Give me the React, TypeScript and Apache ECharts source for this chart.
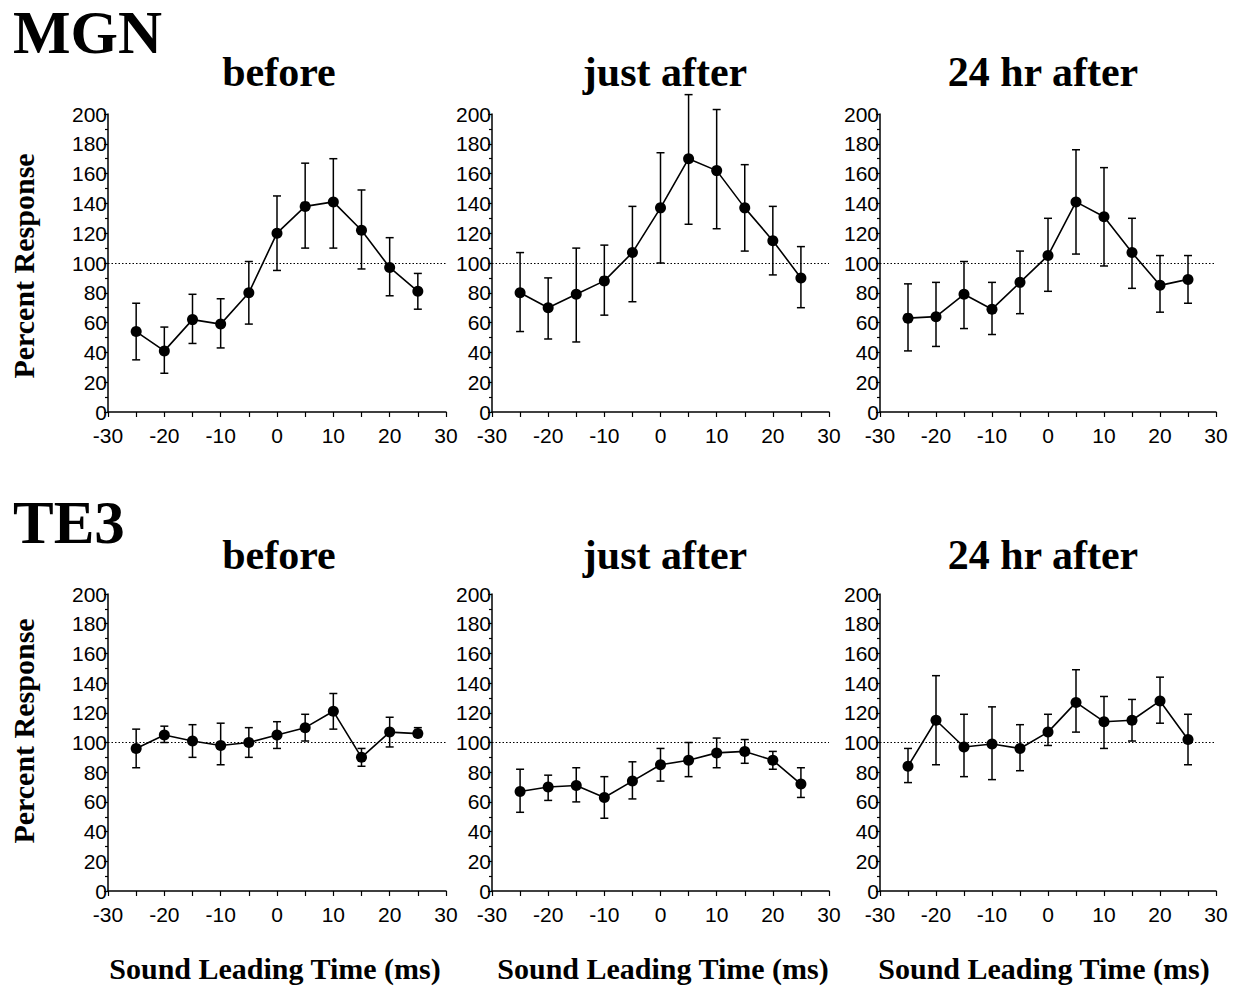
import React, { useEffect, useRef } from "react";
import * as echarts from "echarts";

// Sound leading time (ms) for every measured point
const times = [-25, -20, -15, -10, -5, 0, 5, 10, 15, 20, 25];

// MGN – before
const mgnBeforeMean = [54, 41, 62, 59, 80, 120, 138, 141, 122, 97, 81];
const mgnBeforeLow = [35, 26, 46, 43, 59, 95, 110, 110, 96, 78, 69];
const mgnBeforeHigh = [73, 57, 79, 76, 101, 145, 167, 170, 149, 117, 93];

// MGN – just after
const mgnJustMean = [80, 70, 79, 88, 107, 137, 170, 162, 137, 115, 90];
const mgnJustLow = [54, 49, 47, 65, 74, 100, 126, 123, 108, 92, 70];
const mgnJustHigh = [107, 90, 110, 112, 138, 174, 213, 203, 166, 138, 111];

// MGN – 24 hr after
const mgn24Mean = [63, 64, 79, 69, 87, 105, 141, 131, 107, 85, 89];
const mgn24Low = [41, 44, 56, 52, 66, 81, 106, 98, 83, 67, 73];
const mgn24High = [86, 87, 101, 87, 108, 130, 176, 164, 130, 105, 105];

// TE3 – before
const te3BeforeMean = [96, 105, 101, 98, 100, 105, 110, 121, 90, 107, 106];
const te3BeforeLow = [83, 100, 90, 85, 90, 96, 101, 109, 84, 97, 104];
const te3BeforeHigh = [109, 111, 112, 113, 110, 114, 119, 133, 96, 117, 110];

// TE3 – just after
const te3JustMean = [67, 70, 71, 63, 74, 85, 88, 93, 94, 88, 72];
const te3JustLow = [53, 61, 60, 49, 62, 74, 77, 83, 86, 82, 63];
const te3JustHigh = [82, 78, 83, 77, 87, 96, 100, 103, 102, 94, 83];

// TE3 – 24 hr after
const te324Mean = [84, 115, 97, 99, 96, 107, 127, 114, 115, 128, 102];
const te324Low = [73, 85, 77, 75, 81, 98, 107, 96, 101, 113, 85];
const te324High = [96, 145, 119, 124, 112, 119, 149, 131, 129, 144, 119];

// Axis ticks
const xMin = -30;
const xMax = 30;
const xStep = 10;
const yMin = 0;
const yMax = 200;
const yStep = 20;
const referenceLevel = 100;

// Text
const rowLabels = ["MGN", "TE3"];
const columnTitles = ["before", "just after", "24 hr after"];
const yAxisName = "Percent Response";
const xAxisName = "Sound Leading Time (ms)";

const panels = [
  { mean: mgnBeforeMean, low: mgnBeforeLow, high: mgnBeforeHigh },
  { mean: mgnJustMean, low: mgnJustLow, high: mgnJustHigh },
  { mean: mgn24Mean, low: mgn24Low, high: mgn24High },
  { mean: te3BeforeMean, low: te3BeforeLow, high: te3BeforeHigh },
  { mean: te3JustMean, low: te3JustLow, high: te3JustHigh },
  { mean: te324Mean, low: te324Low, high: te324High },
];

const SANS = '"Liberation Sans", Arial, sans-serif';
const SERIF = '"Liberation Serif", "Times New Roman", serif';

const colLeft = [108, 492, 880];
const colWidth = [338, 337, 336];
const rowTop = [114, 594];
const rowHeight = [298, 297];

function buildOption() {
  const grid: any[] = [];
  const xAxis: any[] = [];
  const yAxis: any[] = [];
  const series: any[] = [];

  panels.forEach((p, idx) => {
    const r = Math.floor(idx / 3);
    const c = idx % 3;
    grid.push({
      left: colLeft[c],
      top: rowTop[r],
      width: colWidth[c],
      height: rowHeight[r],
      containLabel: false,
    });
    xAxis.push({
      type: "value",
      gridIndex: idx,
      min: xMin,
      max: xMax,
      interval: xStep,
      axisLine: { show: true, onZero: false, lineStyle: { color: "#000", width: 1.5 } },
      axisTick: { show: true, length: 5, lineStyle: { color: "#000", width: 1.2 } },
      minorTick: { show: true, splitNumber: 2, length: 5, lineStyle: { color: "#000", width: 1.2 } },
      splitLine: { show: false },
      axisLabel: {
        color: "#000",
        fontSize: 21,
        fontFamily: SANS,
        margin: 13,
      },
    });
    yAxis.push({
      type: "value",
      gridIndex: idx,
      min: yMin,
      max: yMax,
      interval: yStep,
      axisLine: { show: true, onZero: false, lineStyle: { color: "#000", width: 1.5 } },
      axisTick: { show: true, length: 4, lineStyle: { color: "#000", width: 1.2 } },
      minorTick: { show: true, splitNumber: 2, length: 3, lineStyle: { color: "#000", width: 1.2 } },
      splitLine: { show: false },
      axisLabel: {
        color: "#000",
        fontSize: 21,
        fontFamily: SANS,
        margin: 1,
      },
    });

    series.push({
      type: "custom",
      xAxisIndex: idx,
      yAxisIndex: idx,
      z: 2,
      silent: true,
      data: times.map((t, i) => [t, p.low[i], p.high[i]]),
      renderItem: (params: any, api: any) => {
        const x = api.value(0);
        const lo = api.coord([x, api.value(1)]);
        const hi = api.coord([x, api.value(2)]);
        const cap = 4;
        const style = { stroke: "#000", lineWidth: 1.5 };
        return {
          type: "group",
          children: [
            { type: "line", shape: { x1: lo[0], y1: lo[1], x2: hi[0], y2: hi[1] }, style },
            { type: "line", shape: { x1: lo[0] - cap, y1: lo[1], x2: lo[0] + cap, y2: lo[1] }, style },
            { type: "line", shape: { x1: hi[0] - cap, y1: hi[1], x2: hi[0] + cap, y2: hi[1] }, style },
          ],
        };
      },
    });

    series.push({
      type: "line",
      xAxisIndex: idx,
      yAxisIndex: idx,
      z: 3,
      data: times.map((t, i) => [t, p.mean[i]]),
      symbol: "circle",
      symbolSize: 11,
      showSymbol: true,
      itemStyle: { color: "#000" },
      lineStyle: { color: "#000", width: 1.6 },
      markLine: {
        silent: true,
        symbol: "none",
        label: { show: false },
        lineStyle: { type: [1.5, 2], color: "#000", width: 1 },
        data: [{ yAxis: referenceLevel }],
      },
    });
  });

  const graphic: any[] = [];
  const rowLabelTop = [2, 492];
  const titleTop = [51, 534];
  const titleCenter = [279, 665, 1043];
  rowLabels.forEach((t, r) => {
    graphic.push({
      type: "text",
      x: 13,
      y: rowLabelTop[r],
      style: {
        text: t,
        fill: "#000",
        fontFamily: SERIF,
        fontWeight: "bold",
        fontSize: 61,
        align: "left",
        verticalAlign: "top",
      },
    });
    columnTitles.forEach((title, c) => {
      graphic.push({
        type: "text",
        x: titleCenter[c],
        y: titleTop[r],
        style: {
          text: title,
          fill: "#000",
          fontFamily: SERIF,
          fontWeight: "bold",
          fontSize: 42,
          align: "center",
          verticalAlign: "top",
        },
      });
    });
    graphic.push({
      type: "text",
      x: 23,
      y: r === 0 ? 266 : 731,
      rotation: Math.PI / 2,
      style: {
        text: yAxisName,
        fill: "#000",
        fontFamily: SERIF,
        fontWeight: "bold",
        fontSize: 30,
        align: "center",
        verticalAlign: "middle",
      },
    });
  });
  const xNameCenter = [275, 663, 1044];
  xNameCenter.forEach((cx) => {
    graphic.push({
      type: "text",
      x: cx,
      y: 953,
      style: {
        text: xAxisName,
        fill: "#000",
        fontFamily: SERIF,
        fontWeight: "bold",
        fontSize: 30,
        align: "center",
        verticalAlign: "top",
      },
    });
  });

  return {
    animation: false,
    backgroundColor: "#fff",
    grid,
    xAxis,
    yAxis,
    series,
    graphic,
  };
}

export default function App() {
  const ref = useRef<HTMLDivElement>(null);
  useEffect(() => {
    if (!ref.current) return;
    const chart = echarts.init(ref.current, undefined, { renderer: "svg" });
    chart.setOption(buildOption() as any);
    return () => chart.dispose();
  }, []);
  return (
    <div
      ref={ref}
      style={{ position: "absolute", left: 0, top: 0, width: 1238, height: 990, background: "#fff" }}
    />
  );
}
